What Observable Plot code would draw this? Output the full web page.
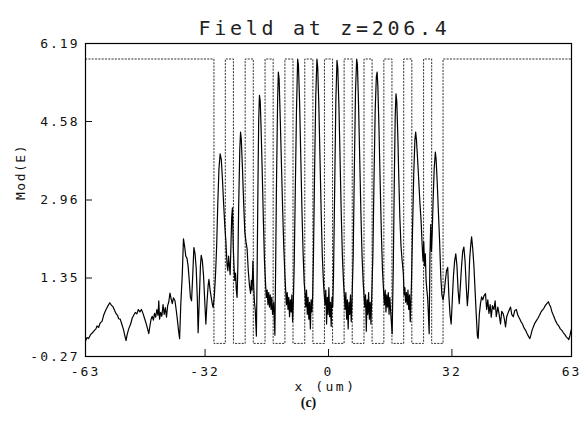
<!DOCTYPE html>
<html><head><meta charset="utf-8">
<script src="https://cdn.jsdelivr.net/npm/d3@7"></script>
<script src="https://cdn.jsdelivr.net/npm/@observablehq/plot@0.6"></script>
<style>body{margin:0;background:#fff}</style>
</head><body><div id="chart"></div>
<script>
const title = "Field at z=206.4";
const yLabel = "Mod(E)";
const xLabel = "x (um)";
const caption = "(c)";
const xTicks = [-63, -32, 0, 32, 63];
const yTicks = [-0.27, 1.35, 2.96, 4.58, 6.19];
const xInnerTicks = [-32, 0, 32];
const yInnerTicks = [1.35, 2.96, 4.58];

// index profile (dotted): step edges and levels
const indexX = [-63, -29.7, -26.75, -24.65, -21.6, -19.5, -16.45, -14.35, -11.3, -9.2, -6.15, -4.05, -1.05, 1.05, 4.05, 6.15, 9.2, 11.3, 14.35, 16.45, 19.5, 21.6, 24.65, 26.75, 29.7, 63];
const indexY = [5.87, 0, 5.87, 0, 5.87, 0, 5.87, 0, 5.87, 0, 5.87, 0, 5.87, 0, 5.87, 0, 5.87, 0, 5.87, 0, 5.87, 0, 5.87, 0, 5.87, 5.87];

// field magnitude |E|: [x (um), Mod(E)]
const field = [
[-63.0,0.05],[-62.6,0.12],[-62.2,0.10],[-61.7,0.18],[-61.2,0.22],[-60.8,0.26],[-60.3,0.30],[-60.0,0.36],[-59.6,0.33],[-59.2,0.42],[-58.7,0.46],[-58.3,0.58],[-57.8,0.68],[-57.4,0.74],[-57.0,0.80],[-56.7,0.84],[-56.3,0.79],[-55.9,0.76],[-55.5,0.69],[-55.1,0.62],[-54.7,0.58],[-54.4,0.51],[-54.0,0.50],[-53.6,0.40],[-53.2,0.30],[-52.8,0.16],[-52.5,0.06],[-52.2,0.18],[-51.8,0.30],[-51.3,0.40],[-50.9,0.52],[-50.5,0.58],[-50.1,0.64],[-49.7,0.61],[-49.3,0.70],[-48.9,0.65],[-48.5,0.70],[-48.1,0.62],[-47.7,0.52],[-47.3,0.42],[-46.9,0.30],[-46.6,0.20],[-46.3,0.36],[-46.0,0.50],[-45.7,0.56],[-45.4,0.48],[-45.1,0.62],[-44.8,0.54],[-44.5,0.70],[-44.2,0.58],[-44.0,0.88],[-43.8,0.50],[-43.5,0.64],[-43.2,0.56],[-42.9,0.80],[-42.6,0.60],[-42.3,0.74],[-42.0,0.54],[-41.7,0.78],[-41.4,0.86],[-41.1,1.04],[-40.8,0.92],[-40.5,0.82],[-40.2,0.94],[-39.8,0.88],[-39.5,0.70],[-39.2,0.50],[-38.9,0.28],[-38.6,0.10],[-38.3,0.80],[-37.9,1.44],[-37.6,2.16],[-37.3,2.00],[-37.0,1.80],[-36.7,1.76],[-36.4,1.60],[-36.1,1.30],[-35.8,0.95],[-35.5,0.88],[-35.2,1.40],[-34.9,1.98],[-34.6,1.85],[-34.3,1.55],[-34.0,0.90],[-33.8,0.22],[-33.5,0.90],[-33.2,1.60],[-33.0,1.82],[-32.7,1.70],[-32.4,1.40],[-32.1,0.90],[-31.8,0.40],[-31.5,0.85],[-31.2,1.20],[-31.0,1.32],[-30.7,1.10],[-30.4,0.95],[-30.1,0.80],[-29.9,0.74],[-29.6,0.98],[-29.3,1.40],
[-29.0,2.00],[-28.7,2.90],[-28.4,3.60],[-28.1,3.91],[-27.8,3.80],[-27.5,3.40],[-27.2,2.90],[-26.9,2.45],[-26.6,2.10],[-26.3,1.62],[-26.1,1.50],[-25.9,1.80],[-25.7,1.60],[-25.5,1.42],[-25.3,2.00],[-25.1,2.60],[-24.9,2.80],[-24.7,2.00],[-24.5,1.60],[-24.3,1.30],[-24.1,1.45],[-23.9,1.10],[-23.7,0.95],
[-23.5,1.60],[-23.3,2.80],[-23.0,4.00],[-22.8,4.36],[-22.6,4.20],[-22.3,3.60],[-22.0,2.90],[-21.7,2.30],[-21.4,2.10],[-21.1,1.95],[-20.8,1.50],[-20.5,1.20],[-20.2,1.03],[-20.0,1.30],[-19.8,1.10],[-19.6,1.70],[-19.4,1.20],[-19.2,0.85],[-19.0,0.70],
[-18.7,0.15],[-18.5,1.50],[-18.3,3.20],[-18.1,4.60],[-17.9,5.12],[-17.7,5.00],[-17.5,4.50],[-17.2,3.60],[-16.9,2.60],[-16.6,1.70],[-16.3,1.20],[-16.1,0.95],
[-15.9,1.10],[-15.7,0.80],[-15.5,1.05],[-15.3,0.75],[-15.1,1.00],[-14.9,0.70],[-14.7,0.95],[-14.5,0.60],[-14.2,0.85],[-13.9,0.17],[-13.7,1.60],
[-13.5,3.20],[-13.2,5.00],[-13.0,5.60],[-12.8,5.45],[-12.5,4.60],[-12.2,3.70],[-11.9,2.80],[-11.6,2.00],[-11.3,1.40],[-11.1,1.10],
[-10.9,0.80],[-10.7,1.05],[-10.5,0.70],[-10.3,0.95],[-10.1,0.55],[-9.9,0.90],[-9.7,0.65],[-9.5,1.00],[-9.3,0.45],[-9.1,0.90],
[-8.9,1.60],[-8.6,3.20],[-8.3,4.80],[-8.0,5.87],[-7.8,5.75],[-7.5,5.00],[-7.2,3.90],[-6.9,2.80],[-6.6,1.90],[-6.3,1.25],[-6.1,1.05],
[-5.9,0.75],[-5.7,1.10],[-5.5,0.60],[-5.3,0.95],[-5.1,0.50],[-4.9,0.85],[-4.7,0.30],[-4.5,0.90],[-4.3,0.65],[-4.1,1.00],
[-3.9,1.80],[-3.6,3.60],[-3.3,5.10],[-3.0,5.87],[-2.8,5.70],[-2.5,4.90],[-2.2,3.80],[-1.9,2.70],[-1.6,1.80],[-1.3,1.25],[-1.1,1.00],
[-0.9,0.80],[-0.7,1.10],[-0.5,0.40],[-0.3,0.95],[-0.1,0.60],[0.1,1.15],[0.3,0.55],[0.5,0.85],[0.7,0.35],[0.9,0.95],[1.1,0.75],
[1.3,1.40],[1.6,3.20],[1.9,5.00],[2.2,5.84],[2.4,5.70],[2.7,4.90],[3.0,3.80],[3.3,2.70],[3.6,1.80],[3.9,1.25],[4.1,1.00],
[4.3,0.70],[4.5,1.05],[4.7,0.50],[4.9,0.90],[5.1,0.30],[5.3,0.85],[5.5,0.60],[5.7,1.00],[5.9,0.45],[6.1,0.90],
[6.4,1.80],[6.7,3.60],[7.0,5.20],[7.3,5.87],[7.5,5.75],[7.8,4.90],[8.1,3.80],[8.4,2.70],[8.7,1.80],[9.0,1.25],[9.2,1.00],
[9.4,0.75],[9.6,1.00],[9.8,0.25],[10.0,0.90],[10.2,0.60],[10.4,1.05],[10.6,0.50],[10.8,0.85],[11.0,0.40],[11.2,0.95],
[11.5,1.80],[11.8,3.40],[12.1,4.80],[12.4,5.50],[12.6,5.60],[12.8,5.30],[13.1,4.40],[13.4,3.30],[13.7,2.30],[14.0,1.50],[14.3,1.05],
[14.5,0.80],[14.7,1.10],[14.9,0.65],[15.1,1.00],[15.3,0.75],[15.5,1.05],[15.7,0.60],[15.9,0.95],[16.2,0.55],[16.5,0.20],
[16.8,1.60],[17.1,3.60],[17.3,4.70],[17.5,5.15],[17.7,5.00],[18.0,4.20],[18.2,3.50],[18.5,2.60],[18.8,2.00],[19.1,1.70],[19.4,1.45],
[19.6,1.00],[19.8,1.15],[20.0,0.85],[20.2,1.05],[20.4,0.80],[20.6,1.10],[20.8,0.70],[21.0,1.00],[21.2,0.45],[21.5,1.20],
[21.8,2.40],[22.1,3.50],[22.4,4.20],[22.6,4.36],[22.8,4.20],[23.1,3.80],[23.4,3.36],[23.7,2.90],[24.0,2.54],[24.3,2.00],[24.5,1.70],
[24.7,2.10],[24.9,1.60],[25.1,1.85],[25.3,1.30],[25.5,1.10],[25.7,0.95],[25.9,0.60],[26.1,0.20],[26.3,1.80],[26.5,2.45],[26.7,1.90],[26.9,2.30],
[27.1,2.90],[27.4,3.60],[27.7,3.95],[27.9,3.80],[28.2,3.30],[28.5,2.70],[28.8,2.13],[29.1,1.40],[29.4,1.00],[29.7,0.90],[30.0,1.05],
[30.3,1.30],[30.6,1.50],[30.9,1.57],[31.2,1.00],[31.5,0.60],[31.8,0.40],[32.1,0.90],[32.4,1.40],[32.7,1.70],[33.0,1.85],[33.3,1.60],[33.6,1.10],[33.9,0.82],[34.2,1.20],[34.5,1.60],[34.8,1.90],[35.1,1.99],[35.4,1.70],[35.7,1.20],[36.0,0.78],[36.3,1.10],[36.6,1.75],[36.9,2.05],[37.1,2.20],[37.4,1.95],[37.7,1.60],[38.0,1.10],[38.3,0.60],[38.6,0.15],[38.8,0.10],[39.1,0.60],[39.4,0.82],[39.7,0.96],[40.0,0.90],[40.3,0.98],[40.7,1.03],[41.0,0.70],[41.3,0.90],[41.6,0.62],[41.9,0.80],[42.2,0.54],[42.5,0.78],[42.9,0.70],[43.2,0.88],[43.5,0.55],[43.9,0.75],[44.2,0.62],[44.6,0.40],[44.9,0.66],[45.3,0.61],[45.6,0.50],[45.9,0.34],[46.2,0.55],[46.5,0.62],[46.9,0.70],[47.2,0.75],[47.5,0.60],[47.9,0.55],[48.3,0.68],[48.7,0.70],[49.1,0.58],[49.5,0.52],[49.9,0.45],[50.3,0.40],[50.7,0.32],[51.1,0.27],[51.5,0.20],[51.9,0.14],[52.2,0.10],[52.5,0.18],[52.8,0.28],[53.1,0.34],[53.5,0.42],[53.9,0.47],[54.3,0.52],[54.7,0.58],[55.1,0.65],[55.4,0.68],[55.8,0.72],[56.2,0.78],[56.6,0.82],[57.0,0.86],[57.3,0.80],[57.6,0.75],[57.9,0.66],[58.2,0.60],[58.5,0.54],[58.9,0.46],[59.3,0.40],[59.7,0.36],[60.1,0.30],[60.5,0.27],[60.9,0.22],[61.3,0.18],[61.7,0.13],[62.0,0.11],[62.3,0.08],[62.6,0.16],[62.8,0.24],[63.0,0.30]
];

const indexData = indexX.map((x, i) => ({x, y: indexY[i]}));
const mono = "'DejaVu Sans Mono', monospace";

const chart = Plot.plot({
  width: 582,
  height: 432,
  marginLeft: 85,
  marginRight: 11,
  marginTop: 43,
  marginBottom: 76,
  x: {domain: [-63, 63]},
  y: {domain: [-0.27, 6.19]},
  style: {fontFamily: mono, background: "#fff", color: "#111"},
  marks: [
    Plot.line(indexData, {x: "x", y: "y", curve: "step-after", stroke: "#333", strokeWidth: 1, strokeDasharray: "1.3,2"}),
    Plot.line(field, {x: d => d[0], y: d => d[1], stroke: "#000", strokeWidth: 1.2}),
    Plot.frame({stroke: "#000", strokeWidth: 1.2}),
    Plot.axisY({ticks: yInnerTicks, tickSize: -7, tickFormat: () => "", label: null}),
    Plot.axisY({ticks: yTicks, tickSize: 0, tickPadding: 6, tickFormat: d => d.toFixed(2), fontSize: 13, label: null}),
    Plot.axisX({ticks: xInnerTicks, tickSize: -7, tickFormat: () => "", label: null}),
    Plot.axisX({ticks: xTicks, tickSize: 0, tickPadding: 10, tickFormat: d => String(d), fontSize: 13, label: null}),
    Plot.text([title], {frameAnchor: "top", dy: -23, dx: -4, fontSize: 20, fill: "#222"}),
    Plot.text([yLabel], {frameAnchor: "left", dx: -65, rotate: -90, fontSize: 13, fill: "#111"}),
    Plot.text([xLabel], {frameAnchor: "bottom", dy: 34, dx: -3, fontSize: 13, fill: "#111"}),
    Plot.text([caption], {frameAnchor: "bottom", dy: 50, dx: -20, fontSize: 14, fontWeight: "bold", fontFamily: "'Liberation Serif', serif", fill: "#111"})
  ]
});

const svg = d3.select(chart);
svg.selectAll("text").each(function() {
  const t = d3.select(this);
  const s = t.text();
  if (s === title) t.attr("letter-spacing", "3.7px");
  else if (s === yLabel) t.attr("letter-spacing", "1.5px");
  else if (s === xLabel) t.attr("letter-spacing", "2.5px");
});
svg.selectAll("[aria-label$='tick label'] text").attr("letter-spacing", "2px");
document.getElementById("chart").appendChild(chart);
</script>
</body></html>
